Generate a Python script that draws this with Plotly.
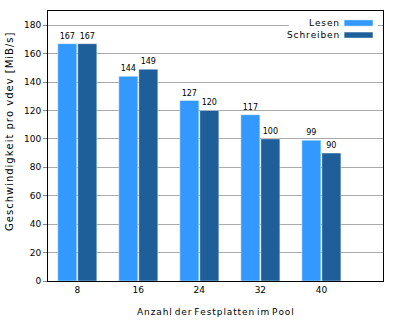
import plotly.graph_objects as go

categories = ["8", "16", "24", "32", "40"]
lesen = [167, 144, 127, 117, 99]
schreiben = [167, 149, 120, 100, 90]
series_names = ["Lesen", "Schreiben"]
colors = ["#3399FF", "#1F5F99"]
y_ticks = [0, 20, 40, 60, 80, 100, 120, 140, 160, 180]
x_title = "Anzahl der Festplatten im Pool"
y_title = "Geschwindigkeit pro vdev [MiB/s]"

FONT = "DejaVu Sans"
HAIR = "\u200a"


def spaced(s, words_only=False):
    # emulate the slight letter-spacing of the original text
    if words_only:
        return " ".join(HAIR.join(w) for w in s.split(" "))
    return HAIR.join(s)


fig = go.Figure()
for name, vals, col in zip(series_names, [lesen, schreiben], colors):
    fig.add_trace(go.Bar(
        x=categories, y=vals, name=name,
        marker=dict(color=col, line=dict(color="rgba(255,255,255,0.4)", width=1)),
        text=[str(v) for v in vals], textposition="outside",
        textfont=dict(family=FONT, size=8, color="#000000"),
        cliponaxis=False, showlegend=False,
    ))

fig.update_layout(
    width=400, height=320,
    margin=dict(l=48, r=17, t=11, b=39, autoexpand=False),
    paper_bgcolor="white", plot_bgcolor="white",
    barmode="group", bargap=0.344, bargroupgap=0.05,
    font=dict(family=FONT, size=9, color="#000000"),
    showlegend=False,
    xaxis=dict(
        type="category", range=[-0.48, 5.01], automargin=False,
        showline=True, linecolor="#000000", linewidth=1, mirror=True,
        ticks="", showgrid=False,
        tickfont=dict(family=FONT, size=9),
    ),
    yaxis=dict(
        range=[0, 190], tickvals=y_ticks, automargin=False,
        showline=True, linecolor="#000000", linewidth=1, mirror=True,
        ticks="outside", ticklen=4, tickcolor="#888888",
        showgrid=True, gridcolor="#AAAAAA", gridwidth=1,
        zeroline=False,
        tickfont=dict(family=FONT, size=9),
    ),
)

# x-axis title
fig.add_annotation(xref="paper", yref="paper", x=0.5, y=0, yshift=-31,
                   text=spaced(x_title, words_only=True), showarrow=False,
                   xanchor="center", yanchor="middle", font=dict(family=FONT, size=9))

# y-axis title (placed like in the original: slightly above the plot centre)
fig.add_annotation(xref="paper", yref="paper", x=0, y=0.552, xshift=-38,
                   text=spaced(y_title), textangle=-90, showarrow=False,
                   xanchor="center", yanchor="middle", font=dict(family=FONT, size=10))

# legend box (text on the left, swatch on the right, as in the original)
fig.add_shape(type="rect", xref="paper", yref="paper", x0=0.719, x1=0.985, y0=0.893, y1=0.997,
              fillcolor="white", line=dict(width=0), layer="above")
legend_y = [(0.944, 0.967, 0.956), (0.900, 0.922, 0.911)]
for name, col, (y0, y1, yc) in zip(series_names, colors, legend_y):
    fig.add_shape(type="rect", xref="paper", yref="paper", x0=0.884, x1=0.970, y0=y0, y1=y1,
                  fillcolor=col, line=dict(color="rgba(255,255,255,0.4)", width=1), layer="above")
    fig.add_annotation(xref="paper", yref="paper", x=0.874, y=yc, text=spaced(name), showarrow=False,
                       xanchor="right", yanchor="middle", font=dict(family=FONT, size=9))

fig.write_html("out.html")
